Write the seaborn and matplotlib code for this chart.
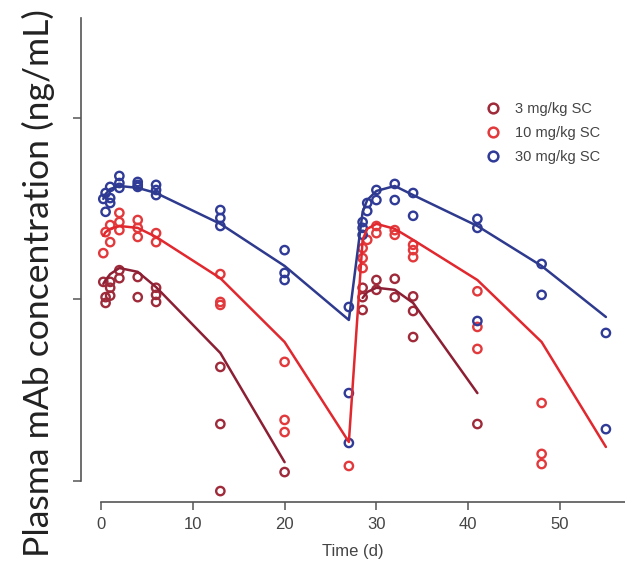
import matplotlib
matplotlib.use("Agg")
import matplotlib.pyplot as plt
import seaborn as sns
import pandas as pd
from matplotlib.lines import Line2D
from matplotlib.ticker import NullLocator

sns.set_theme(style="white")
plt.rcParams["font.family"] = ["Liberation Sans", "DejaVu Sans"]

doses = ["3 mg/kg SC", "10 mg/kg SC", "30 mg/kg SC"]
point_colors = ["#9e2a3a", "#e23a3c", "#2f3b96"]
line_colors = ["#8c1f33", "#e0282e", "#2e3a8e"]
x_ticks = [0, 10, 20, 30, 40, 50]

# observed concentrations (ug/mL; converted to ng/mL below)
t_obs_3 = [0.25, 0.5, 0.5, 1, 1, 1, 2, 2, 4, 4, 6, 6, 6, 13, 13, 13, 20,
           28.5, 28.5, 28.5, 30, 30, 32, 32, 34, 34, 34, 41]
c_obs_3 = [12.5, 10.3, 9.57, 12.5, 11.6, 10.5, 14.5, 13.1, 13.3, 10.3, 11.6, 10.6, 9.69,
           4.25, 2.06, 0.88, 1.12,
           11.6, 10.3, 8.75, 12.8, 11.3, 13.0, 10.3, 10.4, 8.64, 6.21, 2.06]

t_obs_10 = [0.25, 0.5, 1, 1, 2, 2, 2, 4, 4, 4, 6, 6, 13, 13, 13, 20, 20, 20, 27,
            28.5, 28.5, 28.5, 29, 30, 30, 32, 32, 34, 34, 34, 41, 41, 41, 48, 48, 48]
c_obs_10 = [18.0, 23.5, 25.7, 20.7, 30.0, 26.7, 24.1, 27.4, 24.8, 22.1, 23.2, 20.7,
            13.8, 9.69, 9.33, 4.53, 2.17, 1.86, 1.21,
            19.2, 16.9, 14.9, 21.3, 25.4, 23.2, 24.1, 22.7, 20.0, 18.7, 17.1,
            11.1, 7.06, 5.34, 2.69, 1.41, 1.24]

t_obs_30 = [0.25, 0.5, 0.5, 1, 1, 1, 2, 2, 2, 4, 4, 4, 6, 6, 6, 13, 13, 13,
            20, 20, 20, 27, 27, 27, 28.5, 28.5, 28.5, 29, 29, 30, 30, 32, 32,
            34, 34, 41, 41, 41, 48, 48, 55, 55]
c_obs_30 = [35.8, 38.6, 30.4, 41.7, 36.2, 34.0, 47.9, 41.2, 43.8, 44.4, 42.8, 41.7,
            42.8, 37.6, 40.1, 31.1, 28.1, 25.4, 18.7, 14.0, 12.8, 9.09, 3.05, 1.62,
            26.7, 24.8, 22.7, 34.0, 30.7, 40.1, 35.3, 43.3, 35.3, 38.6, 28.9,
            27.8, 24.8, 7.61, 15.7, 10.6, 6.54, 1.93]

# model predictions (ug/mL)
t_mod_3a = [0.25, 0.5, 1, 2, 4, 6, 13, 20]
c_mod_3a = [12.2, 12.8, 13.8, 14.9, 14.2, 11.7, 5.07, 1.27]
t_mod_3b = [28.5, 29, 30, 32, 34, 41]
c_mod_3b = [10.2, 11.0, 11.6, 11.3, 9.57, 3.05]
t_mod_10 = [0.25, 0.5, 1, 2, 4, 6, 13, 20, 27, 28.5, 29, 30, 32, 34, 41, 48, 55]
c_mod_10 = [22.4, 23.5, 24.5, 25.4, 24.8, 22.1, 13.1, 5.83, 1.64,
            21.3, 24.5, 26.1, 24.5, 21.3, 12.8, 5.83, 1.54]
t_mod_30 = [0.25, 0.5, 1, 2, 4, 6, 13, 20, 27, 28.5, 29, 30, 32, 34, 41, 48, 55]
c_mod_30 = [35.8, 38.1, 40.6, 42.2, 41.2, 38.6, 26.1, 15.3, 7.71,
            30.4, 35.3, 39.6, 42.2, 37.6, 25.4, 15.3, 8.01]

obs = pd.concat([
    pd.DataFrame({"Time": t_obs_3, "Conc": c_obs_3, "Dose": doses[0]}),
    pd.DataFrame({"Time": t_obs_10, "Conc": c_obs_10, "Dose": doses[1]}),
    pd.DataFrame({"Time": t_obs_30, "Conc": c_obs_30, "Dose": doses[2]}),
], ignore_index=True)
obs["Conc"] *= 1000

mod = pd.concat([
    pd.DataFrame({"Time": t_mod_3a, "Conc": c_mod_3a, "Dose": doses[0], "Seg": "a"}),
    pd.DataFrame({"Time": t_mod_3b, "Conc": c_mod_3b, "Dose": doses[0], "Seg": "b"}),
    pd.DataFrame({"Time": t_mod_10, "Conc": c_mod_10, "Dose": doses[1], "Seg": "c"}),
    pd.DataFrame({"Time": t_mod_30, "Conc": c_mod_30, "Dose": doses[2], "Seg": "d"}),
], ignore_index=True)
mod["Conc"] *= 1000

W, H = 625, 567
fig = plt.figure(figsize=(W / 100, H / 100), dpi=100)
ax = fig.add_axes([81 / W, (H - 501.7) / H, 1 - 81 / W, (501.7 - 18.3) / H])

sns.scatterplot(data=obs, x="Time", y="Conc", hue="Dose", hue_order=doses,
                palette=point_colors, s=36, linewidth=1.7, legend=False, ax=ax, zorder=2)
coll = ax.collections[-1]
fc = coll.get_facecolors()
coll.set_edgecolors(fc)
coll.set_facecolors("none")

sns.lineplot(data=mod, x="Time", y="Conc", hue="Dose", hue_order=doses,
             palette=line_colors, units="Seg", estimator=None, sort=False,
             lw=1.8, legend=False, ax=ax, zorder=3)

ax.set_yscale("log")
xmax = (625 - 101) / 9.18
xmin = (81 - 101) / 9.18
ymin, ymax = 769.0, 354000.0
ax.set_xlim(xmin, xmax)
ax.set_ylim(ymin, ymax)
ax.set_yticks([1e3, 1e4, 1e5])
ax.set_yticklabels([])
ax.yaxis.set_minor_locator(NullLocator())
ax.set_xticks(x_ticks)
ax.set_xticklabels([str(v) for v in x_ticks])

for s in ["top", "right"]:
    ax.spines[s].set_visible(False)
ax.spines["left"].set_bounds(1e3, ymax)
ax.spines["bottom"].set_bounds(0, xmax)
for s in ["left", "bottom"]:
    ax.spines[s].set_color("#555555")
    ax.spines[s].set_linewidth(1.2)

ax.tick_params(axis="both", which="major", direction="out", length=6, width=1.1,
               color="#555555", labelsize=12, labelcolor="#444444",
               left=True, bottom=True, pad=5)
ax.set_xlabel("Time (d)", fontsize=12, color="#444444", labelpad=9)
ax.set_ylabel("")

handles = [Line2D([0], [0], marker="o", ls="none", markerfacecolor="none",
                  markeredgecolor=c, markersize=7, markeredgewidth=1.8)
           for c in point_colors]
ax.legend(handles, doses, loc="center left", bbox_to_anchor=(486 / W, 1 - 133 / H),
          bbox_transform=fig.transFigure, frameon=False, fontsize=10.5,
          labelcolor="#444444", handlelength=1.0, handletextpad=1.0,
          labelspacing=0.7, borderpad=0, borderaxespad=0)

yl = fig.text(38 / W, 1 - 283 / H, "Plasma mAb concentration (ng/mL)",
              rotation=90, ha="center", va="center", fontsize=22,
              family=["Lato", "DejaVu Sans"], fontweight="normal", color="#222222")
r = fig.canvas.get_renderer()
ext = yl.get_window_extent(renderer=r)
yl.set_fontsize(22 * 545.0 / ext.height)

fig.savefig("out.png", dpi=100)
